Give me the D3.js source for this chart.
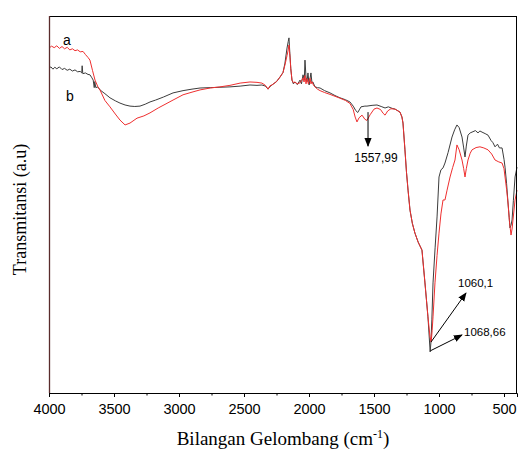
<!DOCTYPE html>
<html>
<head>
<meta charset="utf-8">
<style>
  body { margin: 0; background: white; }
  svg { display: block; }
</style>
<script src="https://cdn.jsdelivr.net/npm/d3@7"></script>
</head>
<body>
<svg id="main"></svg>
<script>
  // wavenumber (cm-1), transmittance (a.u.)
  const seriesA = [
    [4000, 91.5], [3980, 92.0], [3960, 91.6], [3940, 92.1], [3920, 91.4], [3900, 91.9],
    [3880, 91.3], [3860, 91.7], [3840, 91.0], [3820, 91.3], [3800, 90.8], [3780, 91.0],
    [3760, 90.5], [3738, 90.6], [3720, 89.8], [3700, 89.0], [3685, 88.3], [3665, 85.5],
    [3646, 83.0], [3625, 81.3], [3608, 80.4], [3570, 77.6], [3531, 75.9], [3490, 74.0],
    [3454, 72.4], [3415, 71.1], [3377, 71.6], [3323, 72.9], [3270, 73.5], [3223, 74.3],
    [3160, 75.6], [3100, 76.7], [3046, 77.7], [2969, 79.1], [2900, 79.8], [2838, 80.4],
    [2760, 80.9], [2685, 81.2], [2608, 81.6], [2530, 82.2], [2454, 82.5], [2400, 82.4],
    [2362, 82.2], [2335, 81.6], [2315, 80.6], [2300, 81.5], [2285, 81.7], [2250, 82.6],
    [2223, 83.8], [2200, 85.0], [2185, 87.0], [2169, 89.5], [2160, 91.0], [2154, 92.3],
    [2146, 89.0], [2140, 86.0], [2131, 83.0], [2120, 82.3], [2108, 82.5], [2090, 82.0],
    [2069, 82.3], [2055, 83.0], [2046, 83.6], [2038, 82.5], [2031, 84.2], [2023, 82.0],
    [2015, 83.4], [2005, 82.0], [1992, 83.5], [1985, 82.0], [1977, 82.6], [1965, 81.6],
    [1954, 81.2], [1935, 80.6], [1915, 80.2], [1880, 79.7], [1838, 79.2], [1800, 78.7],
    [1762, 78.2], [1720, 77.6], [1685, 76.8], [1660, 75.2], [1645, 73.2], [1631, 71.9],
    [1615, 73.0], [1592, 73.7], [1570, 72.6], [1554, 72.3], [1530, 73.8], [1500, 75.3],
    [1477, 75.6], [1450, 75.2], [1430, 74.2], [1415, 73.7], [1395, 74.8], [1370, 75.4],
    [1338, 75.3], [1300, 74.5], [1285, 73.2], [1277, 71.6], [1262, 64.5], [1250, 58.5],
    [1238, 53.8], [1223, 48.5], [1205, 45.0], [1185, 42.4], [1160, 40.0], [1131, 37.9],
    [1108, 29.2], [1085, 20.2], [1069, 14.9], [1060, 13.5], [1053, 16.5], [1046, 20.2],
    [1031, 29.2], [1015, 36.5], [1000, 42.4], [985, 47.5], [969, 51.2], [954, 51.2],
    [938, 53.8], [915, 57.3], [895, 59.8], [877, 61.8], [862, 65.8], [845, 64.5],
    [823, 61.8], [810, 59.5], [800, 57.3], [790, 59.5], [777, 61.8], [760, 63.6],
    [746, 64.5], [715, 65.1], [685, 65.3], [655, 65.0], [623, 64.5], [595, 63.4],
    [569, 61.8], [540, 61.3], [515, 61.0], [500, 59.5], [492, 57.3], [480, 54.0],
    [469, 50.4], [458, 45.5], [446, 41.9], [438, 43.5], [431, 45.9], [422, 48.8],
    [415, 51.2], [400, 53.8]
  ];

  const seriesB = [
    [4000, 86.2], [3985, 86.5], [3970, 85.9], [3955, 86.4], [3940, 86.0], [3920, 86.5],
    [3900, 85.8], [3880, 86.1], [3860, 85.6], [3840, 85.9], [3820, 85.4], [3800, 85.7],
    [3780, 85.2], [3760, 85.3], [3748, 84.9], [3745, 86.8], [3740, 84.7], [3720, 84.9],
    [3700, 84.5], [3685, 84.4], [3670, 83.6], [3660, 83.0], [3652, 81.0], [3648, 82.6],
    [3640, 81.0], [3625, 81.2], [3608, 80.4], [3570, 79.4], [3531, 78.3], [3490, 77.5],
    [3454, 76.9], [3415, 76.4], [3377, 76.1], [3340, 76.0], [3300, 76.1], [3260, 76.6],
    [3223, 77.2], [3180, 77.7], [3120, 78.5], [3046, 79.6], [2969, 80.2], [2900, 80.6],
    [2838, 80.9], [2760, 81.0], [2685, 81.1], [2608, 81.2], [2530, 81.4], [2454, 81.7],
    [2400, 81.6], [2362, 81.7], [2335, 81.4], [2315, 80.6], [2300, 81.3], [2285, 81.7],
    [2250, 82.6], [2223, 83.8], [2200, 85.0], [2185, 87.5], [2169, 91.5], [2160, 93.2],
    [2154, 94.2], [2147, 90.0], [2140, 86.0], [2131, 83.0], [2120, 82.0], [2108, 82.5],
    [2090, 81.8], [2069, 83.0], [2058, 82.0], [2046, 84.4], [2036, 83.0], [2031, 88.3],
    [2023, 83.8], [2015, 82.6], [2008, 84.9], [1999, 81.7], [1992, 83.4], [1985, 84.9],
    [1977, 82.2], [1970, 82.5], [1954, 81.2], [1935, 81.0], [1915, 80.9], [1880, 80.2],
    [1838, 79.6], [1800, 78.9], [1762, 78.3], [1720, 77.8], [1685, 77.2], [1660, 76.1],
    [1640, 74.9], [1625, 74.4], [1610, 75.3], [1600, 75.9], [1570, 76.1], [1554, 76.1],
    [1515, 76.3], [1477, 76.4], [1445, 76.0], [1415, 75.6], [1390, 75.9], [1360, 75.5],
    [1338, 75.3], [1300, 74.5], [1285, 73.2], [1277, 71.6], [1262, 64.5], [1250, 58.5],
    [1238, 53.8], [1223, 48.5], [1205, 45.0], [1185, 42.4], [1160, 40.0], [1131, 37.9],
    [1108, 29.2], [1085, 20.2], [1068, 10.9], [1062, 13.5], [1055, 19.4], [1046, 29.2],
    [1030, 38.5], [1015, 46.7], [1000, 57.3], [985, 59.2], [969, 59.7], [954, 61.0],
    [930, 63.8], [900, 67.9], [880, 69.8], [862, 71.1], [845, 70.4], [823, 67.9],
    [810, 65.0], [800, 62.6], [790, 65.5], [777, 68.4], [760, 69.0], [746, 69.2],
    [720, 69.6], [700, 69.0], [685, 69.5], [669, 69.2], [645, 68.8], [623, 68.4],
    [600, 67.0], [585, 66.4], [569, 65.3], [550, 66.0], [535, 65.0], [515, 65.0],
    [500, 62.0], [492, 59.9], [480, 55.5], [469, 50.4], [460, 46.5], [454, 43.8],
    [446, 44.5], [438, 45.9], [428, 51.0], [415, 57.3], [400, 59.9]
  ];

  const xTicks = [4000, 3500, 3000, 2500, 2000, 1500, 1000, 500];
  const xMinor = [3750, 3250, 2750, 2250, 1750, 1250, 750];

  // peak notes: [wavenumber, transmittance at start, text]
  const notes = [
    {wn: 1546, t1: 74.5, t2: 65.5, label: "1557,99"},
    {wn: 1062, t: 13.5, label: "1060,1"},
    {wn: 1066, t: 11.2, label: "1068,66"}
  ];

  const width = 518, height = 452;
  const margin = {top: 16, right: 1, bottom: 59, left: 49};

  const svg = d3.select("#main")
    .attr("width", width)
    .attr("height", height);

  const x = d3.scaleLinear().domain([4000, 400]).range([margin.left, width - margin.right]);
  const y = d3.scaleLinear().domain([0, 100]).range([height - margin.bottom, margin.top]);

  const defs = svg.append("defs");
  defs.append("marker")
    .attr("id", "arrow")
    .attr("viewBox", "0 0 10 10")
    .attr("refX", 9).attr("refY", 5)
    .attr("markerWidth", 9).attr("markerHeight", 9)
    .attr("markerUnits", "userSpaceOnUse")
    .attr("orient", "auto")
    .append("path")
    .attr("d", "M0,1L10,5L0,9z")
    .attr("fill", "black");

  const line = d3.line()
    .x(d => x(d[0]))
    .y(d => y(d[1]));

  svg.append("path")
    .datum(seriesB)
    .attr("fill", "none")
    .attr("stroke", "#3c3c3c")
    .attr("stroke-width", 1)
    .attr("d", line);

  svg.append("path")
    .datum(seriesA)
    .attr("fill", "none")
    .attr("stroke", "#ef2f2f")
    .attr("stroke-width", 1)
    .attr("d", line);

  // frame
  const x0 = margin.left, x1 = width - margin.right;
  const y0 = margin.top, y1 = height - margin.bottom;
  svg.append("line").attr("x1", x0).attr("x2", x1).attr("y1", y0 + 0.5).attr("y2", y0 + 0.5)
    .attr("stroke", "black");
  svg.append("line").attr("x1", x1 - 0.5).attr("x2", x1 - 0.5).attr("y1", y0).attr("y2", y1)
    .attr("stroke", "black");
  svg.append("line").attr("x1", x0 + 0.5).attr("x2", x0 + 0.5).attr("y1", y0).attr("y2", y1)
    .attr("stroke", "#5a2c2c").attr("stroke-width", 1.3);

  const xAxis = svg.append("g")
    .attr("transform", `translate(0,${y1})`)
    .call(d3.axisBottom(x).tickValues(xTicks).tickSize(4).tickPadding(7).tickFormat(d3.format("d")));
  xAxis.select(".domain").attr("stroke", "black");
  xAxis.selectAll("text")
    .attr("font-family", "Arial, 'Liberation Sans', sans-serif")
    .attr("font-size", 14.5)
    .attr("fill", "black");

  svg.append("g")
    .attr("transform", `translate(0,${y1})`)
    .call(d3.axisBottom(x).tickValues(xMinor).tickSize(2.5).tickFormat(""))
    .call(g => g.select(".domain").remove());

  svg.append("text")
    .attr("x", 283)
    .attr("y", 445)
    .attr("text-anchor", "middle")
    .attr("font-family", "'Liberation Serif', 'Times New Roman', serif")
    .attr("font-size", 19)
    .call(t => t.append("tspan").text("Bilangan Gelombang (cm"))
    .call(t => t.append("tspan").attr("dy", -7).attr("font-size", 12).text("-1"))
    .call(t => t.append("tspan").attr("dy", 7).text(")"));

  svg.append("text")
    .attr("transform", `translate(26,${(y0 + y1) / 2 + 5}) rotate(-90)`)
    .attr("text-anchor", "middle")
    .attr("font-family", "'Liberation Serif', 'Times New Roman', serif")
    .attr("font-size", 18)
    .text("Transmitansi (a.u)");

  // series labels
  svg.append("text").attr("x", 63).attr("y", 45)
    .attr("font-family", "Arial, 'Liberation Sans', sans-serif").attr("font-size", 14)
    .text("a");
  svg.append("text").attr("x", 66).attr("y", 101)
    .attr("font-family", "Arial, 'Liberation Sans', sans-serif").attr("font-size", 14)
    .text("b");

  // annotations
  const n0 = notes[0];
  svg.append("line")
    .attr("x1", x(n0.wn)).attr("x2", x(n0.wn))
    .attr("y1", y(n0.t1)).attr("y2", y(n0.t2))
    .attr("stroke", "black").attr("stroke-width", 1)
    .attr("marker-end", "url(#arrow)");
  svg.append("text")
    .attr("x", x(n0.wn) + 8).attr("y", 162)
    .attr("text-anchor", "middle")
    .attr("font-family", "Arial, 'Liberation Sans', sans-serif").attr("font-size", 12)
    .text(n0.label);

  const n1 = notes[1];
  svg.append("line")
    .attr("x1", x(n1.wn)).attr("y1", y(n1.t))
    .attr("x2", 466).attr("y2", 293)
    .attr("stroke", "black").attr("stroke-width", 1)
    .attr("marker-end", "url(#arrow)");
  svg.append("text")
    .attr("x", 458).attr("y", 287)
    .attr("font-family", "Arial, 'Liberation Sans', sans-serif").attr("font-size", 11.5)
    .text(n1.label);

  const n2 = notes[2];
  svg.append("line")
    .attr("x1", x(n2.wn)).attr("y1", y(n2.t))
    .attr("x2", 462).attr("y2", 335)
    .attr("stroke", "black").attr("stroke-width", 1)
    .attr("marker-end", "url(#arrow)");
  svg.append("text")
    .attr("x", 464).attr("y", 336)
    .attr("font-family", "Arial, 'Liberation Sans', sans-serif").attr("font-size", 11.5)
    .text(n2.label);
</script>
</body>
</html>
